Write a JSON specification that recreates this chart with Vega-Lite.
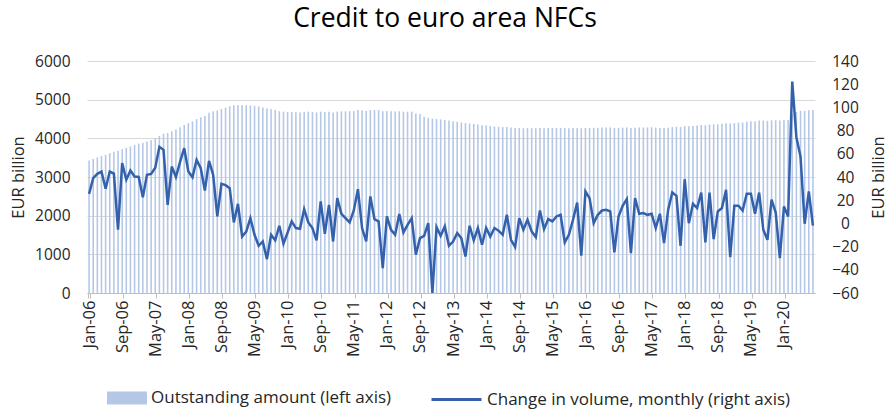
{
"$schema": "https://vega.github.io/schema/vega-lite/v6.json",
"width": 728, "height": 232,
"autosize": {"type": "none"},
"padding": {"left": 87, "top": 61, "right": 75, "bottom": 119},
"background": "white",
"title": {"text": "Credit to euro area NFCs", "fontSize": 26.5, "font": "Open Sans", "fontWeight": "normal", "color": "#000000", "offset": 22, "dx": -6},
"config": {"font": "Open Sans", "view": {"stroke": null}, "axis": {"labelFont": "Open Sans", "titleFont": "Open Sans", "labelColor": "#262626", "titleColor": "#262626", "titleFontWeight": "normal"}, "legend": {"labelFont": "Open Sans", "labelColor": "#262626"}},
"data": {"values": [
{"m":"Jan-06","amt":3425,"chg":25.5},{"m":"Feb-06","amt":3465,"chg":39},{"m":"Mar-06","amt":3505,"chg":42.7},{"m":"Apr-06","amt":3545,"chg":44.7},{"m":"May-06","amt":3575,"chg":29.8},{"m":"Jun-06","amt":3615,"chg":44.7},{"m":"Jul-06","amt":3655,"chg":43},{"m":"Aug-06","amt":3680,"chg":-5.5},{"m":"Sep-06","amt":3720,"chg":52},{"m":"Oct-06","amt":3755,"chg":37.6},{"m":"Nov-06","amt":3790,"chg":45.6},{"m":"Dec-06","amt":3830,"chg":40.4},
{"m":"Jan-07","amt":3865,"chg":40},{"m":"Feb-07","amt":3885,"chg":22.6},{"m":"Mar-07","amt":3920,"chg":41.9},{"m":"Apr-07","amt":3960,"chg":42.7},{"m":"May-07","amt":4005,"chg":48},{"m":"Jun-07","amt":4065,"chg":66},{"m":"Jul-07","amt":4120,"chg":63.4},{"m":"Aug-07","amt":4135,"chg":16},{"m":"Sep-07","amt":4180,"chg":49},{"m":"Oct-07","amt":4230,"chg":40},{"m":"Nov-07","amt":4285,"chg":53},{"m":"Dec-07","amt":4345,"chg":64.8},
{"m":"Jan-08","amt":4395,"chg":44.7},{"m":"Feb-08","amt":4440,"chg":39.8},{"m":"Mar-08","amt":4495,"chg":54.8},{"m":"Apr-08","amt":4545,"chg":47.6},{"m":"May-08","amt":4575,"chg":28.4},{"m":"Jun-08","amt":4660,"chg":53.9},{"m":"Jul-08","amt":4700,"chg":41.9},{"m":"Aug-08","amt":4720,"chg":6},{"m":"Sep-08","amt":4760,"chg":34.1},{"m":"Oct-08","amt":4795,"chg":33},{"m":"Nov-08","amt":4830,"chg":30.4},{"m":"Dec-08","amt":4850,"chg":0.8},
{"m":"Jan-09","amt":4865,"chg":16.9},{"m":"Feb-09","amt":4862,"chg":-11.3},{"m":"Mar-09","amt":4855,"chg":-7},{"m":"Apr-09","amt":4850,"chg":4.5},{"m":"May-09","amt":4840,"chg":-9.8},{"m":"Jun-09","amt":4825,"chg":-19.3},{"m":"Jul-09","amt":4800,"chg":-15.6},{"m":"Aug-09","amt":4770,"chg":-30.8},{"m":"Sep-09","amt":4750,"chg":-9.8},{"m":"Oct-09","amt":4730,"chg":-14.6},{"m":"Nov-09","amt":4700,"chg":-2},{"m":"Dec-09","amt":4690,"chg":-17.5},
{"m":"Jan-10","amt":4680,"chg":-7.8},{"m":"Feb-10","amt":4680,"chg":1.7},{"m":"Mar-10","amt":4675,"chg":-4},{"m":"Apr-10","amt":4670,"chg":-4.6},{"m":"May-10","amt":4690,"chg":12.3},{"m":"Jun-10","amt":4690,"chg":0.8},{"m":"Jul-10","amt":4680,"chg":-4},{"m":"Aug-10","amt":4670,"chg":-14.6},{"m":"Sep-10","amt":4690,"chg":18.9},{"m":"Oct-10","amt":4680,"chg":-8.9},{"m":"Nov-10","amt":4690,"chg":16},{"m":"Dec-10","amt":4670,"chg":-15.6},
{"m":"Jan-11","amt":4690,"chg":21.8},{"m":"Feb-11","amt":4700,"chg":8.3},{"m":"Mar-11","amt":4700,"chg":4.5},{"m":"Apr-11","amt":4700,"chg":0.8},{"m":"May-11","amt":4710,"chg":11.1},{"m":"Jun-11","amt":4730,"chg":29.5},{"m":"Jul-11","amt":4725,"chg":-4},{"m":"Aug-11","amt":4710,"chg":-15.6},{"m":"Sep-11","amt":4730,"chg":23.2},{"m":"Oct-11","amt":4730,"chg":3.7},{"m":"Nov-11","amt":4730,"chg":1.7},{"m":"Dec-11","amt":4700,"chg":-38.5},
{"m":"Jan-12","amt":4705,"chg":6},{"m":"Feb-12","amt":4700,"chg":-5.5},{"m":"Mar-12","amt":4695,"chg":-9.8},{"m":"Apr-12","amt":4700,"chg":8},{"m":"May-12","amt":4690,"chg":-7.8},{"m":"Jun-12","amt":4690,"chg":-1.2},{"m":"Jul-12","amt":4690,"chg":4.5},{"m":"Aug-12","amt":4640,"chg":-27},{"m":"Sep-12","amt":4630,"chg":-12.7},{"m":"Oct-12","amt":4560,"chg":-10.7},{"m":"Nov-12","amt":4530,"chg":0.2},{"m":"Dec-12","amt":4510,"chg":-60},
{"m":"Jan-13","amt":4500,"chg":-3.2},{"m":"Feb-13","amt":4490,"chg":-10.7},{"m":"Mar-13","amt":4475,"chg":-2.6},{"m":"Apr-13","amt":4460,"chg":-19.3},{"m":"May-13","amt":4445,"chg":-15.6},{"m":"Jun-13","amt":4430,"chg":-8.4},{"m":"Jul-13","amt":4410,"chg":-12.7},{"m":"Aug-13","amt":4395,"chg":-28.5},{"m":"Sep-13","amt":4385,"chg":-2},{"m":"Oct-13","amt":4370,"chg":-14.6},{"m":"Nov-13","amt":4355,"chg":-4},{"m":"Dec-13","amt":4340,"chg":-18.4},
{"m":"Jan-14","amt":4330,"chg":-4},{"m":"Feb-14","amt":4320,"chg":-11.4},{"m":"Mar-14","amt":4305,"chg":-4},{"m":"Apr-14","amt":4300,"chg":-6.3},{"m":"May-14","amt":4290,"chg":-9.8},{"m":"Jun-14","amt":4290,"chg":7.4},{"m":"Jul-14","amt":4280,"chg":-14.1},{"m":"Aug-14","amt":4270,"chg":-20.4},{"m":"Sep-14","amt":4265,"chg":4.5},{"m":"Oct-14","amt":4260,"chg":-5.5},{"m":"Nov-14","amt":4265,"chg":3.1},{"m":"Dec-14","amt":4262,"chg":-6.9},
{"m":"Jan-15","amt":4258,"chg":-11.8},{"m":"Feb-15","amt":4265,"chg":11.1},{"m":"Mar-15","amt":4262,"chg":-5},{"m":"Apr-15","amt":4265,"chg":3.7},{"m":"May-15","amt":4268,"chg":1.7},{"m":"Jun-15","amt":4270,"chg":6},{"m":"Jul-15","amt":4272,"chg":7.4},{"m":"Aug-15","amt":4268,"chg":-16.4},{"m":"Sep-15","amt":4262,"chg":-9.8},{"m":"Oct-15","amt":4265,"chg":3.1},{"m":"Nov-15","amt":4270,"chg":18},{"m":"Dec-15","amt":4260,"chg":-27.9},
{"m":"Jan-16","amt":4268,"chg":27.5},{"m":"Feb-16","amt":4272,"chg":21.8},{"m":"Mar-16","amt":4270,"chg":0.2},{"m":"Apr-16","amt":4275,"chg":7.4},{"m":"May-16","amt":4278,"chg":11.1},{"m":"Jun-16","amt":4280,"chg":11.7},{"m":"Jul-16","amt":4282,"chg":10.3},{"m":"Aug-16","amt":4270,"chg":-25},{"m":"Sep-16","amt":4272,"chg":6},{"m":"Oct-16","amt":4276,"chg":15.2},{"m":"Nov-16","amt":4280,"chg":20.9},{"m":"Dec-16","amt":4268,"chg":-25.6},
{"m":"Jan-17","amt":4275,"chg":21.8},{"m":"Feb-17","amt":4278,"chg":8.3},{"m":"Mar-17","amt":4280,"chg":8.9},{"m":"Apr-17","amt":4282,"chg":7.4},{"m":"May-17","amt":4285,"chg":8.3},{"m":"Jun-17","amt":4280,"chg":-4},{"m":"Jul-17","amt":4265,"chg":8.3},{"m":"Aug-17","amt":4270,"chg":-17},{"m":"Sep-17","amt":4272,"chg":11.7},{"m":"Oct-17","amt":4290,"chg":26.6},{"m":"Nov-17","amt":4300,"chg":23.8},{"m":"Dec-17","amt":4295,"chg":-19.3},
{"m":"Jan-18","amt":4315,"chg":38.1},{"m":"Feb-18","amt":4312,"chg":0.2},{"m":"Mar-18","amt":4320,"chg":16.9},{"m":"Apr-18","amt":4330,"chg":13.2},{"m":"May-18","amt":4345,"chg":26.6},{"m":"Jun-18","amt":4338,"chg":-16.4},{"m":"Jul-18","amt":4355,"chg":26.6},{"m":"Aug-18","amt":4360,"chg":-13.5},{"m":"Sep-18","amt":4365,"chg":10.3},{"m":"Oct-18","amt":4375,"chg":13.2},{"m":"Nov-18","amt":4392,"chg":28.9},{"m":"Dec-18","amt":4385,"chg":-29},
{"m":"Jan-19","amt":4395,"chg":15.2},{"m":"Feb-19","amt":4405,"chg":15.2},{"m":"Mar-19","amt":4410,"chg":11.1},{"m":"Apr-19","amt":4430,"chg":25.5},{"m":"May-19","amt":4440,"chg":25.5},{"m":"Jun-19","amt":4445,"chg":8.3},{"m":"Jul-19","amt":4462,"chg":26.6},{"m":"Aug-19","amt":4460,"chg":-5.5},{"m":"Sep-19","amt":4452,"chg":-14.1},{"m":"Oct-19","amt":4465,"chg":20.4},{"m":"Nov-19","amt":4470,"chg":9.4},{"m":"Dec-19","amt":4462,"chg":-29.9},
{"m":"Jan-20","amt":4472,"chg":14.6},{"m":"Feb-20","amt":4476,"chg":6},{"m":"Mar-20","amt":4620,"chg":122.2},{"m":"Apr-20","amt":4680,"chg":74.3},{"m":"May-20","amt":4710,"chg":57.6},{"m":"Jun-20","amt":4712,"chg":-0.3},{"m":"Jul-20","amt":4725,"chg":27.5},{"m":"Aug-20","amt":4734,"chg":-2}
]},
"encoding": {
  "x": {"field": "m", "type": "ordinal", "sort": null,
    "scale": {"paddingInner": 0.62, "paddingOuter": 0.31},
    "axis": {"title": null, "values": ["Jan-06","Sep-06","May-07","Jan-08","Sep-08","May-09","Jan-10","Sep-10","May-11","Jan-12","Sep-12","May-13","Jan-14","Sep-14","May-15","Jan-16","Sep-16","May-17","Jan-18","Sep-18","May-19","Jan-20"],
      "labelAngle": -90, "labelFontSize": 16.5, "labelPadding": 2, "tickBand": "extent", "tickSize": 5, "tickColor": "#bfbfbf", "domainColor": "#bfbfbf", "grid": false, "labelColor": "#262626"}}
},
"layer": [
  {"mark": {"type": "bar"},
   "encoding": {
     "y": {"field": "amt", "type": "quantitative", "scale": {"domain": [0, 6000]},
       "axis": {"values": [0,1000,2000,3000,4000,5000,6000], "format": "d", "title": "EUR billion", "titleFontSize": 16.5, "titleAngle": -90, "titleBaseline": "top", "titleX": -77, "grid": true, "gridColor": "#d9d9d9", "domain": false, "ticks": false, "labelPadding": 17, "labelFontSize": 15.5}},
     "fill": {"datum": "Outstanding amount (left axis)", "type": "nominal", "scale": {"range": ["#b4c7e7"]},
       "legend": {"orient": "none", "legendX": 20, "legendY": 317, "title": null, "symbolType": "M-1,-0.33H1V0.33H-1Z", "symbolSize": 1600, "symbolStrokeWidth": 0, "labelFontSize": 17, "labelOffset": 4, "labelLimit": 400, "padding": 0}}
   }},
  {"mark": {"type": "line", "strokeWidth": 2.5},
   "encoding": {
     "y": {"field": "chg", "type": "quantitative", "scale": {"domain": [-60, 140]},
       "axis": {"orient": "right", "values": [-60,-40,-20,0,20,40,60,80,100,120,140], "title": "EUR billion", "titleFontSize": 16.5, "titleAngle": -90, "titleBaseline": "top", "titleX": 55, "grid": false, "domain": false, "ticks": false, "labelAlign": "center", "labelPadding": 30, "labelFontSize": 15.5}},
     "stroke": {"datum": "Change in volume, monthly (right axis)", "type": "nominal", "scale": {"range": ["#3461ac"]},
       "legend": {"orient": "none", "legendX": 343, "legendY": 312, "title": null, "symbolType": "stroke", "symbolSize": 2500, "symbolStrokeWidth": 3, "labelFontSize": 17, "labelOffset": 4, "labelLimit": 400, "padding": 0}}
   }}
],
"resolve": {"scale": {"y": "independent"}}
}
